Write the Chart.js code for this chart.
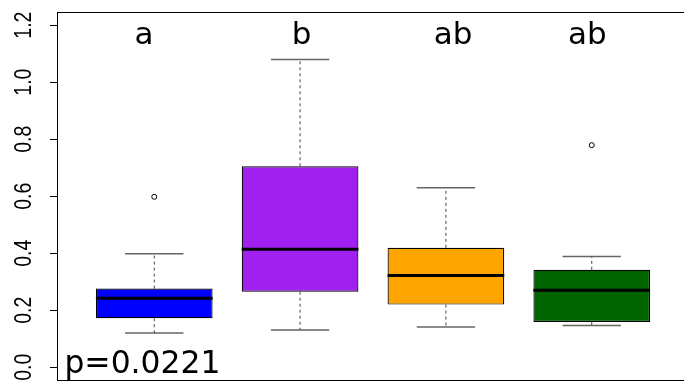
<html>
<head>
    <script src="https://cdn.jsdelivr.net/npm/chart.js@4.4.1/dist/chart.umd.min.js"></script>
    <style>
        body {
            margin: 0;
            overflow: hidden;
            background: #fff;
        }
    </style>
</head>

<body>
    <canvas id="canvas" width="700" height="386"></canvas>
    <script>
        // group positions and letters
        var groups = [1, 2, 3, 4];
        var letters = ['a', 'b', 'ab', 'ab'];
        var letterX = [0.93, 2.01, 3.05, 3.97];
        var colors = ['#0000ff', '#a020f0', '#ffa500', '#006400'];

        // box statistics
        var lowWhisker = [0.120, 0.131, 0.141, 0.147];
        var q1 = [0.172, 0.265, 0.220, 0.159];
        var medians = [0.242, 0.414, 0.322, 0.270];
        var q3 = [0.276, 0.705, 0.419, 0.342];
        var highWhisker = [0.398, 1.079, 0.630, 0.389];
        var outliers = [[0.598], [], [], [0.779]];

        var yTicks = [0, 0.2, 0.4, 0.6, 0.8, 1.0, 1.2];
        var yTickLabels = ['0.0', '0.2', '0.4', '0.6', '0.8', '1.0', '1.2'];
        var pText = 'p=0.0221';

        var half = 0.4, capHalf = 0.2;

        var boxes = groups.map(function(g, i) { return { x: g, y: [q1[i], q3[i]] }; });

        var medianPts = [], whiskerPts = [], capPts = [], outPts = [];
        groups.forEach(function(g, i) {
            medianPts.push({ x: g - half, y: medians[i] }, { x: g + half, y: medians[i] }, { x: g + 0.5, y: null });
            whiskerPts.push({ x: g, y: q3[i] }, { x: g, y: highWhisker[i] }, { x: g, y: null },
                { x: g, y: q1[i] }, { x: g, y: lowWhisker[i] }, { x: g, y: null });
            capPts.push({ x: g - capHalf, y: highWhisker[i] }, { x: g + capHalf, y: highWhisker[i] }, { x: g + 0.5, y: null },
                { x: g - capHalf, y: lowWhisker[i] }, { x: g + capHalf, y: lowWhisker[i] }, { x: g + 0.5, y: null });
            outliers[i].forEach(function(v) { outPts.push({ x: g, y: v }); });
        });

        var textPlugin = {
            id: 'texts',
            afterDraw: function(chart) {
                var ctx = chart.ctx, xs = chart.scales.x, ys = chart.scales.y, a = chart.chartArea;
                ctx.save();
                // frame
                ctx.strokeStyle = '#000';
                ctx.lineWidth = 1;
                ctx.strokeRect(Math.round(a.left) - 0.5, Math.round(a.top) + 0.5, a.right - a.left, a.bottom - a.top - 1);
                // y tick labels, rotated (glyphs a bit taller than wide, like the original)
                ctx.fillStyle = '#000';
                ctx.font = '19.5px "Liberation Sans"';
                ctx.textAlign = 'center';
                ctx.textBaseline = 'middle';
                yTicks.forEach(function(v, i) {
                    ctx.save();
                    ctx.translate(24, ys.getPixelForValue(v));
                    ctx.rotate(-Math.PI / 2);
                    ctx.scale(1, 1.27);
                    ctx.fillText(yTickLabels[i], 0, 0);
                    ctx.restore();
                });
                // significance letters
                ctx.font = '31px "DejaVu Sans"';
                ctx.textBaseline = 'alphabetic';
                letters.forEach(function(l, i) {
                    ctx.fillText(l, xs.getPixelForValue(letterX[i]), ys.getPixelForValue(1.135));
                });
                ctx.textAlign = 'left';
                ctx.font = '31.4px "DejaVu Sans"';
                ctx.fillText(pText, xs.getPixelForValue(0.384), ys.getPixelForValue(-0.02));
                ctx.restore();
            }
        };

        var chart = new Chart(document.getElementById('canvas').getContext('2d'), {
            type: 'bar',
            data: {
                datasets: [{
                    type: 'bar',
                    data: boxes,
                    backgroundColor: colors,
                    borderColor: '#000',
                    borderWidth: 1.2,
                    borderSkipped: false,
                    barPercentage: 0.8,
                    categoryPercentage: 1,
                    order: 3
                }, {
                    type: 'scatter',
                    data: whiskerPts,
                    showLine: true,
                    borderColor: '#444',
                    borderWidth: 1,
                    borderDash: [3, 3],
                    pointRadius: 0,
                    order: 4
                }, {
                    type: 'scatter',
                    data: capPts,
                    showLine: true,
                    borderColor: '#666',
                    borderWidth: 1.5,
                    pointRadius: 0,
                    order: 4
                }, {
                    type: 'scatter',
                    data: medianPts,
                    showLine: true,
                    borderColor: '#000',
                    borderWidth: 3,
                    pointRadius: 0,
                    order: 1
                }, {
                    type: 'scatter',
                    data: outPts,
                    pointRadius: 2.5,
                    pointBorderWidth: 1,
                    pointBorderColor: '#000',
                    pointBackgroundColor: '#fff',
                    order: 0
                }]
            },
            options: {
                responsive: false,
                animation: false,
                layout: { padding: { left: 50, right: 12, top: 12, bottom: 3 } },
                plugins: { legend: { display: false }, tooltip: { enabled: false } },
                scales: {
                    x: {
                        type: 'linear',
                        min: 0.34,
                        max: 4.66,
                        offset: false,
                        display: false,
                        afterBuildTicks: function(s) { s.ticks = groups.map(function(v) { return { value: v }; }); }
                    },
                    y: {
                        min: -0.048,
                        max: 1.246,
                        afterBuildTicks: function(s) { s.ticks = yTicks.map(function(v) { return { value: v }; }); },
                        ticks: { display: false },
                        border: { display: false },
                        grid: { drawOnChartArea: false, tickLength: 8, tickColor: '#000', tickWidth: 1 }
                    }
                }
            },
            plugins: [textPlugin]
        });
    </script>
</body>
</html>
